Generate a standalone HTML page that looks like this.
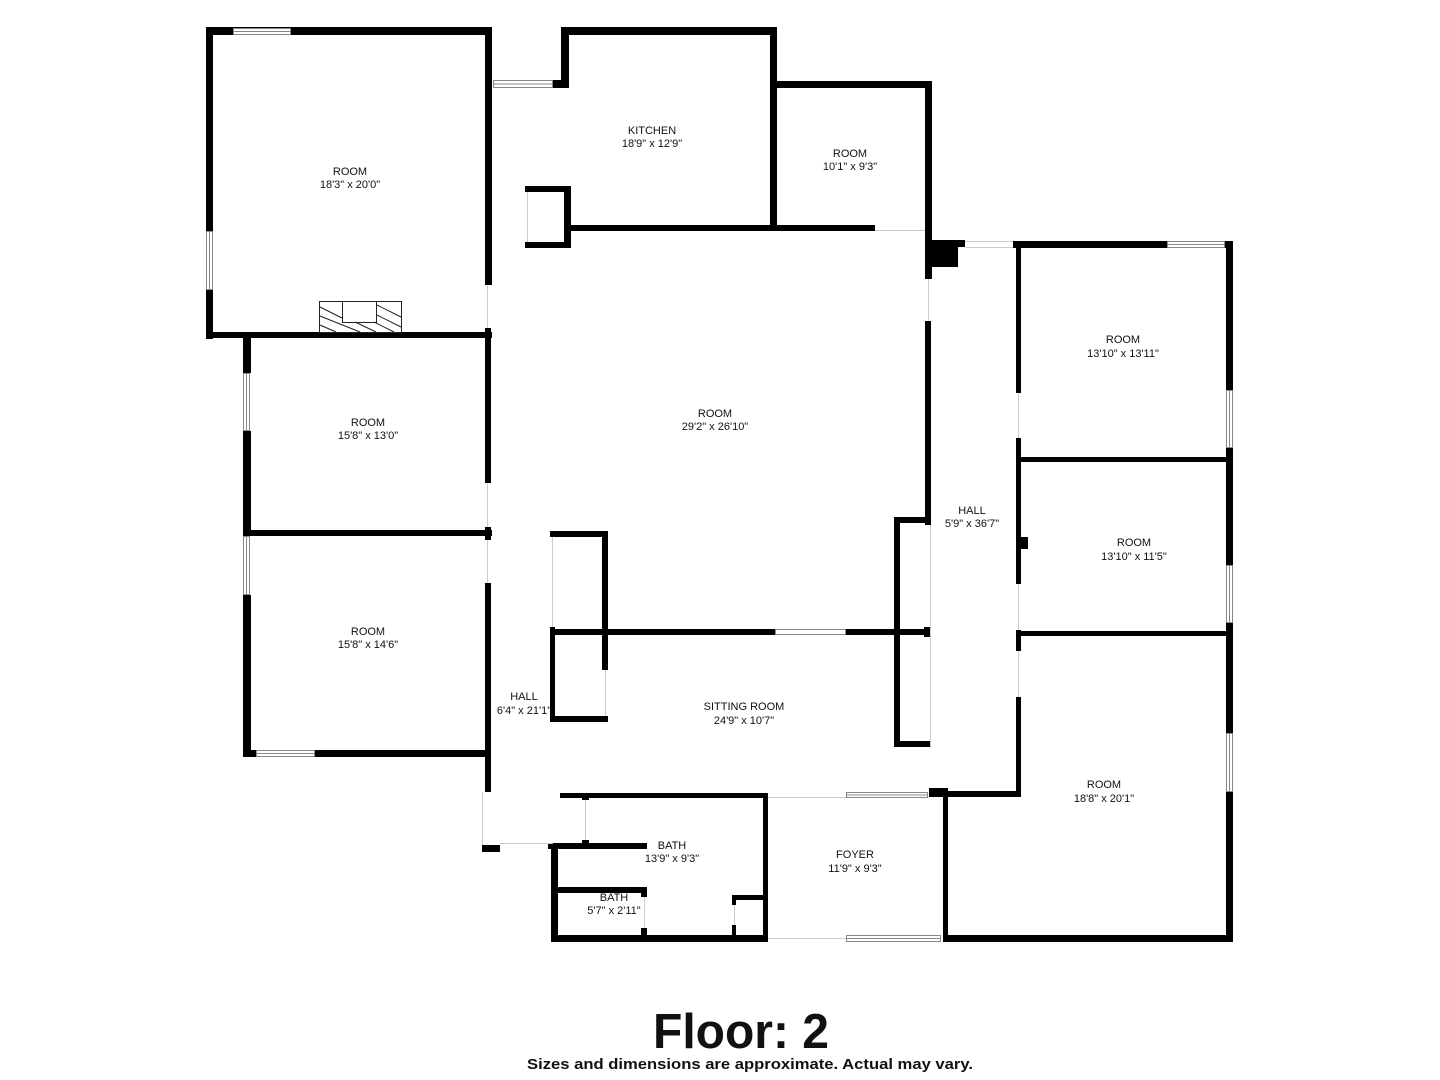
<!DOCTYPE html>
<html><head><meta charset="utf-8"><style>
html,body{margin:0;padding:0;background:#fff;width:1440px;height:1080px;overflow:hidden}
svg text{font-family:"Liberation Sans",sans-serif;fill:#111}
</style></head><body>
<svg width="1440" height="1080" viewBox="0 0 1440 1080" xmlns="http://www.w3.org/2000/svg">
<g fill="#000">
<!-- top-left room -->
<rect x="206" y="27" width="286" height="8"/>
<rect x="206" y="27" width="7" height="312"/>
<rect x="485" y="27" width="7" height="258"/>
<rect x="485" y="328" width="6" height="155"/>
<rect x="206" y="332" width="286" height="6"/>
<!-- kitchen -->
<rect x="553" y="80" width="16" height="8"/>
<rect x="561" y="27" width="8" height="61"/>
<rect x="561" y="27" width="216" height="8"/>
<rect x="770" y="27" width="7" height="201"/>
<rect x="564" y="225" width="311" height="6"/>
<!-- closet box -->
<rect x="525" y="186" width="46" height="6"/>
<rect x="564" y="186" width="7" height="62"/>
<rect x="525" y="242" width="46" height="6"/>
<!-- room 10'1 -->
<rect x="770" y="81" width="162" height="7"/>
<rect x="925" y="81" width="7" height="198"/>
<rect x="925" y="240" width="40" height="7"/>
<rect x="925" y="240" width="33" height="27"/>
<!-- hall right-left wall -->
<rect x="925" y="321" width="6" height="204"/>
<rect x="924" y="627" width="7" height="10"/>
<rect x="894" y="517" width="36" height="6"/>
<rect x="894" y="517" width="6" height="230"/>
<rect x="894" y="741" width="36" height="6"/>
<!-- right rooms -->
<rect x="1013" y="241" width="154" height="7"/>
<rect x="1225" y="241" width="8" height="7"/>
<rect x="1226" y="241" width="7" height="149"/>
<rect x="1226" y="448" width="7" height="117"/>
<rect x="1226" y="623" width="7" height="110"/>
<rect x="1226" y="792" width="7" height="150"/>
<rect x="1016" y="248" width="5" height="145"/>
<rect x="1016" y="438" width="5" height="146"/>
<rect x="1021" y="537" width="7" height="12"/>
<rect x="1016" y="630" width="5" height="21"/>
<rect x="1016" y="697" width="5" height="100"/>
<rect x="1016" y="457" width="217" height="5"/>
<rect x="1016" y="631" width="217" height="5"/>
<rect x="943" y="791" width="78" height="6"/>
<rect x="929" y="788" width="19" height="9"/>
<rect x="943" y="788" width="5" height="154"/>
<rect x="943" y="935" width="290" height="7"/>
<!-- left rooms -->
<rect x="243" y="333" width="249" height="5"/>
<rect x="243" y="333" width="8" height="40"/>
<rect x="243" y="431" width="8" height="105"/>
<rect x="243" y="595" width="8" height="162"/>
<rect x="243" y="530" width="249" height="6"/>
<rect x="485" y="527" width="6" height="13"/>
<rect x="485" y="583" width="6" height="209"/>
<rect x="243" y="750" width="13" height="7"/>
<rect x="315" y="750" width="176" height="7"/>
<rect x="482" y="845" width="18" height="7"/>
<!-- sitting room closet -->
<rect x="550" y="531" width="58" height="6"/>
<rect x="602" y="531" width="6" height="139"/>
<rect x="550" y="627" width="5" height="95"/>
<rect x="550" y="716" width="58" height="6"/>
<rect x="550" y="629" width="225" height="6"/>
<rect x="846" y="629" width="84" height="6"/>
<!-- baths -->
<rect x="560" y="793" width="208" height="5"/>
<rect x="582" y="793" width="7" height="7"/>
<rect x="582" y="840" width="7" height="7"/>
<rect x="763" y="793" width="5" height="149"/>
<rect x="548" y="843" width="99" height="6"/>
<rect x="551" y="843" width="7" height="99"/>
<rect x="551" y="935" width="217" height="7"/>
<rect x="551" y="887" width="96" height="6"/>
<rect x="641" y="887" width="6" height="10"/>
<rect x="641" y="928" width="6" height="14"/>
<rect x="732" y="895" width="36" height="5"/>
<rect x="732" y="895" width="4" height="10"/>
<rect x="732" y="925" width="4" height="17"/>
</g>
<!-- fireplace -->
<g fill="none" stroke="#222" stroke-width="1">
<rect x="319.5" y="301.5" width="82" height="31"/>
<rect x="342.5" y="301.5" width="34" height="21" fill="#fff"/>
<path d="M320 307 L342 318 M320 316 L360 332 M320 325 L336 332 M377 305 L401 317 M377 315 L401 327 M374 322 L394 332 M355 322 L376 332"/>
</g>
<!-- windows -->
<g fill="#fff" stroke="#888" stroke-width="1">
<rect x="233.5" y="28.5" width="57" height="6"/><line x1="234" y1="31.5" x2="290" y2="31.5"/>
<rect x="206.5" y="231.5" width="6" height="58"/><line x1="209.5" y1="232" x2="209.5" y2="289"/>
<rect x="493.5" y="80.5" width="59" height="7"/><line x1="494" y1="84" x2="552" y2="84"/>
<rect x="1167.5" y="241.5" width="57" height="6"/><line x1="1168" y1="244.5" x2="1224" y2="244.5"/>
<rect x="1226.5" y="390.5" width="6" height="57"/><line x1="1229.5" y1="391" x2="1229.5" y2="447"/>
<rect x="1226.5" y="565.5" width="6" height="57"/><line x1="1229.5" y1="566" x2="1229.5" y2="622"/>
<rect x="1226.5" y="733.5" width="6" height="58"/><line x1="1229.5" y1="734" x2="1229.5" y2="791"/>
<rect x="243.5" y="373.5" width="6" height="57"/><line x1="246.5" y1="374" x2="246.5" y2="430"/>
<rect x="243.5" y="536.5" width="6" height="58"/><line x1="246.5" y1="537" x2="246.5" y2="594"/>
<rect x="256.5" y="750.5" width="58" height="6"/><line x1="257" y1="753.5" x2="314" y2="753.5"/>
<rect x="775.5" y="629.5" width="70" height="5"/>
<rect x="846.5" y="792.5" width="81" height="5"/><line x1="847" y1="795" x2="927" y2="795"/>
<rect x="846.5" y="935.5" width="94" height="6"/><line x1="847" y1="938.5" x2="940" y2="938.5"/>
</g>
<!-- light openings -->
<g stroke="#ccc" stroke-width="1" fill="none">
<line x1="875" y1="230.5" x2="925" y2="230.5"/>
<line x1="965" y1="241.5" x2="1013" y2="241.5"/><line x1="965" y1="247.5" x2="1013" y2="247.5"/>
<line x1="928.5" y1="279" x2="928.5" y2="321"/>
<line x1="930.5" y1="525" x2="930.5" y2="747"/>
<line x1="1018.5" y1="393" x2="1018.5" y2="438"/><line x1="1018.5" y1="584" x2="1018.5" y2="630"/><line x1="1018.5" y1="651" x2="1018.5" y2="697"/>
<line x1="487.5" y1="285" x2="487.5" y2="328"/><line x1="487.5" y1="483" x2="487.5" y2="527"/><line x1="487.5" y1="540" x2="487.5" y2="583"/>
<line x1="482.5" y1="792" x2="482.5" y2="845"/><line x1="500" y1="843.5" x2="553" y2="843.5"/>
<line x1="585.5" y1="800" x2="585.5" y2="840"/>
<line x1="527.5" y1="192" x2="527.5" y2="242"/>
<line x1="552.5" y1="537" x2="552.5" y2="627"/><line x1="605.5" y1="670" x2="605.5" y2="716"/>
<line x1="768" y1="797.5" x2="846" y2="797.5"/><line x1="768" y1="938.5" x2="846" y2="938.5"/>
<line x1="644.5" y1="897" x2="644.5" y2="928"/><line x1="734.5" y1="905" x2="734.5" y2="925"/>
</g>
<g font-size="11" text-anchor="middle">
<text x="350" y="175">ROOM</text><text x="350" y="188">18'3" x 20'0"</text>
<text x="652" y="134">KITCHEN</text><text x="652" y="147">18'9" x 12'9"</text>
<text x="850" y="157">ROOM</text><text x="850" y="170">10'1" x 9'3"</text>
<text x="715" y="417">ROOM</text><text x="715" y="430">29'2" x 26'10"</text>
<text x="368" y="426">ROOM</text><text x="368" y="439">15'8" x 13'0"</text>
<text x="368" y="635">ROOM</text><text x="368" y="648">15'8" x 14'6"</text>
<text x="524" y="700">HALL</text><text x="524" y="714">6'4" x 21'1"</text>
<text x="744" y="710">SITTING ROOM</text><text x="744" y="724">24'9" x 10'7"</text>
<text x="972" y="514">HALL</text><text x="972" y="527">5'9" x 36'7"</text>
<text x="1123" y="343">ROOM</text><text x="1123" y="357">13'10" x 13'11"</text>
<text x="1134" y="546">ROOM</text><text x="1134" y="560">13'10" x 11'5"</text>
<text x="1104" y="788">ROOM</text><text x="1104" y="802">18'8" x 20'1"</text>
<text x="672" y="849">BATH</text><text x="672" y="862">13'9" x 9'3"</text>
<text x="614" y="901">BATH</text><text x="614" y="914">5'7" x 2'11"</text>
<text x="855" y="858">FOYER</text><text x="855" y="872">11'9" x 9'3"</text>
</g>
<text x="741" y="1048" font-size="49" font-weight="bold" text-anchor="middle" textLength="176" lengthAdjust="spacingAndGlyphs">Floor: 2</text>
<text x="750" y="1069" font-size="15" font-weight="bold" text-anchor="middle" textLength="446" lengthAdjust="spacingAndGlyphs">Sizes and dimensions are approximate. Actual may vary.</text>
</svg>
</body></html>
